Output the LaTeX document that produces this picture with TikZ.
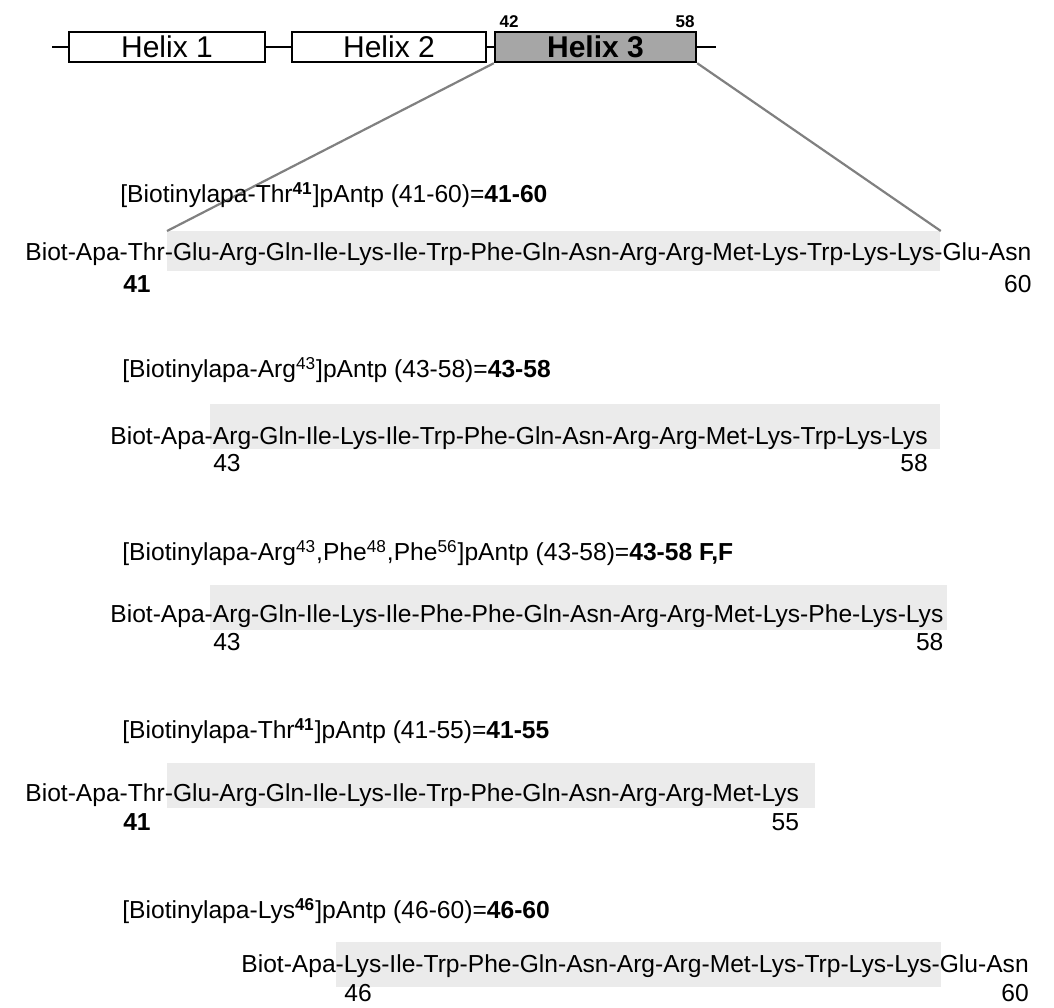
\documentclass[tikz,border=0pt]{standalone}
\usepackage{fontspec}
\setmainfont{Liberation Sans}
\usetikzlibrary{positioning}

\begin{document}
\begin{tikzpicture}[x=0.5pt, y=-0.5pt,
  helix/.style={draw, line width=1.2pt, inner sep=0pt, minimum height=15pt,
    font=\fontsize{15}{15}\selectfont},
  band/.style={fill=black!8, inner sep=0pt, anchor=north west, minimum height=22.5pt},
  seq/.style={anchor=west, inner sep=0pt, font=\fontsize{12.3}{14}\selectfont},
  hdr/.style={anchor=west, inner sep=0pt, font=\fontsize{12.3}{14}\selectfont},
  num/.style={inner sep=0pt, font=\fontsize{12.3}{14}\selectfont},
  resnum/.style={font=\bfseries\fontsize{8.5}{9}\selectfont},
  zoomln/.style={draw=black!50, line width=1.1pt}
]
  \useasboundingbox (0,0) rectangle (1054,1007);

  % homeodomain map
  \coordinate (lstart) at (52,47);
  \coordinate (lend) at (716,47);
  \node[helix, minimum width=98pt] (h1) at (167,47) {Helix 1};
  \node[helix, minimum width=97pt] (h2) at (389,47) {Helix 2};
  \node[helix, minimum width=100.5pt, fill=black!35,
    font=\bfseries\fontsize{15}{15}\selectfont] (h3) at (595.5,47) {Helix 3};
  \draw[line width=1pt] (lstart) -- (h1) (h1) -- (h2) (h2) -- (h3) (h3) -- (lend);
  \node[resnum] (p42) at (509,22) {42};
  \node[resnum] (p58) at (685,22) {58};

  % shaded helix 3 part of each peptide
  \node[band, minimum width=386.5pt, minimum height=20pt] (b1) at (167,231) {};
  \node[band, minimum width=365pt] (b2) at (210,404) {};
  \node[band, minimum width=368.5pt] (b3) at (210,585) {};
  \node[band, minimum width=324pt] (b4) at (167,763) {};
  \node[band, minimum width=302.5pt] (b5) at (336,942) {};

  \draw[zoomln] (h3.south west) -- (b1.north west);
  \draw[zoomln] (h3.south east) -- (b1.north east);

  % 41-60
  \node[hdr] (t1) at (120,195)
    {[Biotinylapa-Thr\textsuperscript{\textbf{41}}]pAntp (41-60)=\textbf{41-60}};
  \node[seq] (s1) at (25,254)
    {Biot-Apa-Thr-Glu-Arg-Gln-Ile-Lys-Ile-Trp-Phe-Gln-Asn-Arg-Arg-Met-Lys-Trp-Lys-Lys-Glu-Asn};
  \node[num, font=\bfseries\fontsize{12.3}{14}\selectfont] (a1) at (137,284) {41};
  \node[num, anchor=east] (e1) at (s1.east |- 0,284) {60};

  % 43-58
  \node[hdr] (t2) at (122,370)
    {[Biotinylapa-Arg\textsuperscript{43}]pAntp (43-58)=\textbf{43-58}};
  \node[seq] (s2) at (110,438)
    {Biot-Apa-Arg-Gln-Ile-Lys-Ile-Trp-Phe-Gln-Asn-Arg-Arg-Met-Lys-Trp-Lys-Lys};
  \node[num] (a2) at (227,463) {43};
  \node[num, anchor=east] (e2) at (s2.east |- 0,463) {58};

  % 43-58 F,F
  \node[hdr] (t3) at (122,553)
    {[Biotinylapa-Arg\textsuperscript{43},Phe\textsuperscript{48},Phe\textsuperscript{56}]pAntp (43-58)=\textbf{43-58 F,F}};
  \node[seq] (s3) at (110,616)
    {Biot-Apa-Arg-Gln-Ile-Lys-Ile-Phe-Phe-Gln-Asn-Arg-Arg-Met-Lys-Phe-Lys-Lys};
  \node[num] (a3) at (227,642) {43};
  \node[num, anchor=east] (e3) at (s3.east |- 0,642) {58};

  % 41-55
  \node[hdr] (t4) at (122,731)
    {[Biotinylapa-Thr\textsuperscript{\textbf{41}}]pAntp (41-55)=\textbf{41-55}};
  \node[seq] (s4) at (25,795)
    {Biot-Apa-Thr-Glu-Arg-Gln-Ile-Lys-Ile-Trp-Phe-Gln-Asn-Arg-Arg-Met-Lys};
  \node[num, font=\bfseries\fontsize{12.3}{14}\selectfont] (a4) at (137,822) {41};
  \node[num, anchor=east] (e4) at (s4.east |- 0,822) {55};

  % 46-60
  \node[hdr] (t5) at (122,911)
    {[Biotinylapa-Lys\textsuperscript{\textbf{46}}]pAntp (46-60)=\textbf{46-60}};
  \node[seq] (s5) at (241,966)
    {Biot-Apa-Lys-Ile-Trp-Phe-Gln-Asn-Arg-Arg-Met-Lys-Trp-Lys-Lys-Glu-Asn};
  \node[num] (a5) at (358,993) {46};
  \node[num, anchor=east] (e5) at (s5.east |- 0,993) {60};
\end{tikzpicture}
\end{document}
